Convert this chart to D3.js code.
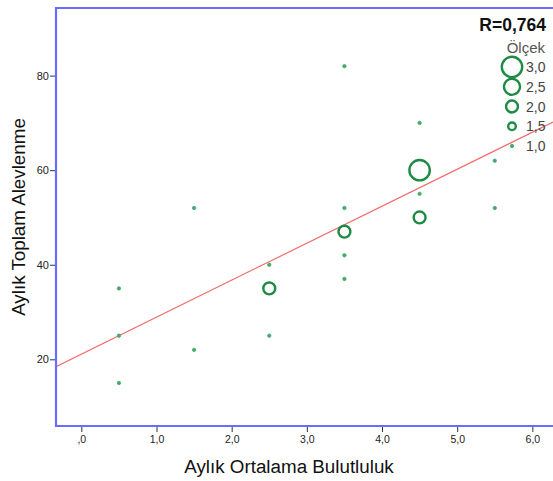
<!DOCTYPE html>
<html>
<head>
<meta charset="utf-8">
<script src="https://cdn.jsdelivr.net/npm/d3@7"></script>
<style>
  body { margin: 0; background: #fff; }
  text { font-family: "Liberation Sans", Arial, sans-serif; }
</style>
</head>
<body>
<div id="chart"></div>
<script>
// data
const bulutluluk = [0.5, 0.5, 0.5, 1.5, 1.5, 2.5, 2.5, 2.5, 3.5, 3.5, 3.5, 3.5, 3.5, 4.5, 4.5, 4.5, 4.5, 5.5, 5.5];
const alevlenme  = [35, 25, 15, 52, 22, 40, 35, 25, 82, 52, 47, 42, 37, 70, 60, 55, 50, 62, 52];
const olcek      = [1, 1, 1, 1, 1, 1, 2, 1, 1, 1, 2, 1, 1, 1, 3, 1, 2, 1, 1];
const legendSizes = [3.0, 2.5, 2.0, 1.5, 1.0];
const xTicks = [0, 1, 2, 3, 4, 5, 6];
const yTicks = [20, 40, 60, 80];
// fit line
const fitIntercept = 21.1;
const fitSlope = 7.82;
const rText = "R=0,764";

const W = 553, H = 481;
const pLeft = 56, pTop = 8, pBottom = 426;

const svg = d3.select("#chart").append("svg")
  .attr("width", W).attr("height", H);

const x = d3.scaleLinear().domain([-0.337, 6.9]).range([pLeft, pLeft + (6.9 + 0.337) * 75.17]);
const y = d3.scaleLinear().domain([5.9, 94.3]).range([pBottom, pTop]);
const r = d3.scaleLinear().domain([1, 3]).range([1.7, 10.2]);

const fmt = d => d === 0 ? ",0" : d.toFixed(1).replace(".", ",");

svg.append("defs").append("clipPath").attr("id", "clip")
  .append("rect").attr("x", pLeft).attr("y", pTop)
  .attr("width", W - pLeft).attr("height", pBottom - pTop);

// x axis
const xa = svg.append("g").attr("transform", `translate(0,${pBottom})`)
  .call(d3.axisBottom(x).tickValues(xTicks).tickFormat(fmt).tickSize(6).tickPadding(4));
xa.select(".domain").remove();
xa.selectAll("line").attr("stroke", "#333");
xa.selectAll("text").attr("font-size", 10.5).attr("fill", "#222");

// y axis
const ya = svg.append("g").attr("transform", `translate(${pLeft},0)`)
  .call(d3.axisLeft(y).tickValues(yTicks).tickSize(6).tickPadding(1));
ya.select(".domain").remove();
ya.selectAll("line").attr("stroke", "#333");
ya.selectAll("text").attr("font-size", 11).attr("fill", "#222");

// fit line
const x0 = x.invert(pLeft), x1 = x.invert(W);
svg.append("line")
  .attr("clip-path", "url(#clip)")
  .attr("x1", x(x0)).attr("y1", y(fitIntercept + fitSlope * x0))
  .attr("x2", x(x1)).attr("y2", y(fitIntercept + fitSlope * x1))
  .attr("stroke", "#f26d6d").attr("stroke-width", 1.2);

// points
const pts = bulutluluk.map((b, i) => ({ b, a: alevlenme[i], s: olcek[i] }));
svg.append("g").selectAll("circle").data(pts).enter().append("circle")
  .attr("cx", d => x(d.b)).attr("cy", d => y(d.a))
  .attr("r", d => r(d.s))
  .attr("fill", d => d.s === 1 ? "#45a86c" : "none")
  .attr("stroke", d => d.s === 1 ? "#45a86c" : "#1e8b45")
  .attr("stroke-width", d => d.s === 1 ? 0.8 : 2.4);

// frame
svg.append("path")
  .attr("d", `M${W + 5},${pTop} H${pLeft} V${pBottom} H${W + 5}`)
  .attr("fill", "none").attr("stroke", "#6b6bff").attr("stroke-width", 2.2);

// R text and legend
svg.append("text").attr("x", 546).attr("y", 31).attr("text-anchor", "end")
  .attr("font-size", 17.5).attr("font-weight", "bold").attr("fill", "#111").text(rText);
svg.append("text").attr("x", 545).attr("y", 53).attr("text-anchor", "end")
  .attr("font-size", 15).attr("fill", "#555").text("Ölçek");

const ly = d3.scalePoint().domain(legendSizes).range([67, 146]);
const lg = svg.append("g").selectAll("g").data(legendSizes).enter().append("g")
  .attr("transform", d => `translate(512,${ly(d)})`);
lg.append("circle").attr("r", d => r(d))
  .attr("fill", d => d === 1 ? "#45a86c" : "none")
  .attr("stroke", d => d === 1 ? "#45a86c" : "#1e8b45")
  .attr("stroke-width", d => d === 1 ? 0.8 : 2.4);
lg.append("text").attr("x", 14).attr("dy", "0.36em")
  .attr("font-size", 14).attr("fill", "#444").text(d => d.toFixed(1).replace(".", ","));

// axis titles
svg.append("text").attr("x", 289).attr("y", 473).attr("text-anchor", "middle")
  .attr("font-size", 18.8).attr("fill", "#111").text("Aylık Ortalama Bulutluluk");
svg.append("text").attr("transform", "translate(25,217) rotate(-90)").attr("text-anchor", "middle")
  .attr("font-size", 18.8).attr("fill", "#111").text("Aylık Toplam Alevlenme");
</script>
</body>
</html>
